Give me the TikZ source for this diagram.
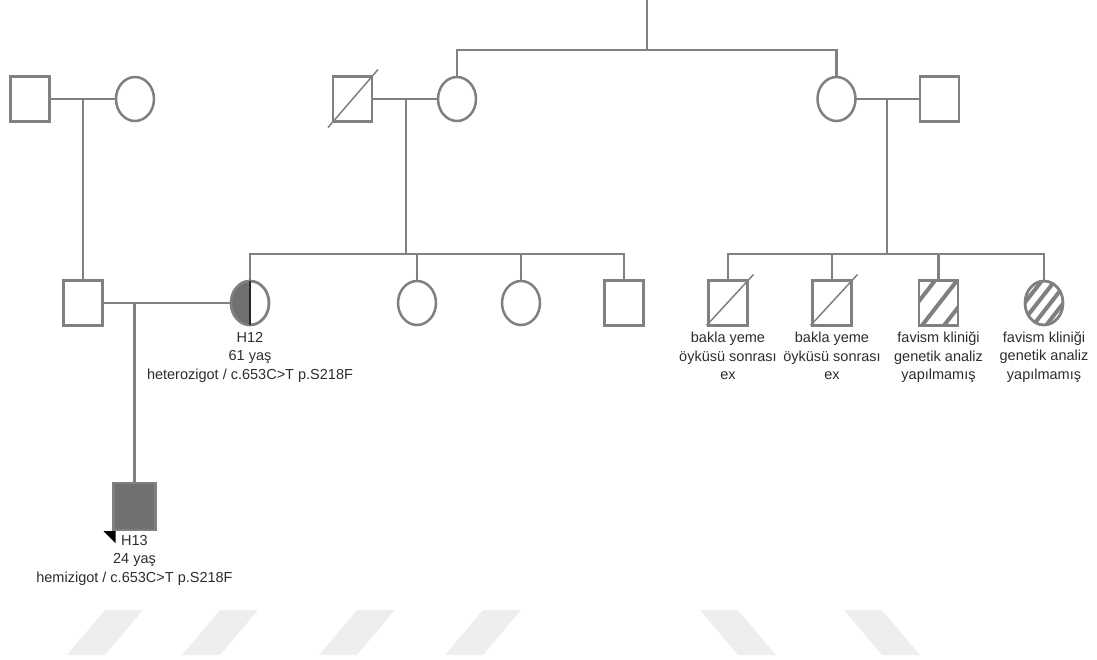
\documentclass[tikz,border=0pt]{standalone}
\usepackage{fontspec}
\setmainfont{Liberation Sans}
\definecolor{pedgray}{RGB}{128,128,128}
\definecolor{pedfill}{RGB}{112,112,112}
\definecolor{pedtext}{RGB}{45,45,45}
\definecolor{wmgray}{RGB}{238,238,238}
\usetikzlibrary{positioning,shapes.geometric,calc}

\begin{document}
\begin{tikzpicture}[x=1pt, y=-1pt, every node/.style={font=\fontsize{14.5}{18.5}\selectfont, text=pedtext},
  male/.style={draw=pedgray, line width=2.5pt, fill=white, minimum width=39pt, minimum height=45pt, inner sep=0pt, outer sep=0pt},
  female/.style={ellipse, draw=pedgray, line width=2.5pt, fill=white, minimum width=38pt, minimum height=44pt, inner sep=0pt, outer sep=0pt},
  rel/.style={draw=pedgray, line width=2.5pt},
  dead/.style={draw=pedgray, line width=1.5pt},
  hatch/.style={draw=pedgray, line width=4pt},
  info/.style={align=center, inner sep=0pt}]
\useasboundingbox (0,0) rectangle (1097,659);
% Watermark
\foreach \cx in {105,220,357,483} \fill[wmgray] (\cx,610) -- (\cx+38,610) -- (\cx,655) -- (\cx-38,655) -- cycle;
\foreach \cx in {738,882} \fill[wmgray] (\cx-38,610) -- (\cx,610) -- (\cx+38,655) -- (\cx,655) -- cycle;
% Generation I
\node[male] (m1) at (30,99) {};
\node[female] (f1) at (135,99) {};
\node[male] (gf) at (352.5,99) {};
\node[female] (gm) at (457,99) {};
\node[female] (f3) at (836.5,99) {};
\node[male] (m3) at (939.5,99) {};
\draw[dead] ($(gf.south west)+(-5pt,-6pt)$) -- ($(gf.north east)+(6pt,7pt)$);
% Top line
\coordinate (topIn) at (647,0);
\coordinate (topJ) at (647,50);
\draw[rel] (topIn) -- (topJ);
\draw[rel] (gm.north) |- (topJ) -| (f3.north);
% Couples
\draw[rel] (m1.east) -- (f1.west);
\draw[rel] (gf.east) -- (gm.west);
\draw[rel] (f3.east) -- (m3.west);
% Generation II
\node[male] (m2) at (83,303) {};
\node[female] (h12) at (250,303) {};
\node[female] (c2) at (417,303) {};
\node[female] (c3) at (521,303) {};
\node[male] (c4) at (624,303) {};
\node[male] (s1) at (728,303) {};
\node[male] (s2) at (832,303) {};
\node[male] (s3) at (938.5,303) {};
\node[female] (s4) at (1044,303) {};
% H12 carrier
\begin{scope}
\clip ($(h12.north)+(-25pt,5pt)$) rectangle ($(h12.south)+(0pt,-5pt)$);
\fill[pedfill] (h12.center) ellipse [x radius=19pt, y radius=22pt];
\end{scope}
\draw[pedgray, line width=2.5pt] (h12.center) ellipse [x radius=19pt, y radius=22pt];
\draw[black!85, line width=1.5pt] (h12.north) -- (h12.south);
% Deceased brothers
\draw[dead] ($(s1.south west)+(-2pt,0pt)$) -- ($(s1.north east)+(6pt,6pt)$);
\draw[dead] ($(s2.south west)+(-2pt,0pt)$) -- ($(s2.north east)+(6pt,6pt)$);
% Hatched siblings
\begin{scope}
\clip (s3.south west) rectangle (s3.north east);
\foreach \d in {-21,1,23} \draw[hatch] ($(s3.center)+(\d pt,0pt)+(-25pt,-32pt)$) -- ++(50pt,64pt);
\end{scope}
\draw[pedgray, line width=2.5pt] (s3.south west) rectangle (s3.north east);
\begin{scope}
\clip (s4.center) ellipse [x radius=19pt, y radius=22pt];
\foreach \d in {-19.5,-6.5,6.5,19.5} \draw[hatch] ($(s4.center)+(\d pt,0pt)+(-25pt,-32pt)$) -- ++(50pt,64pt);
\end{scope}
\draw[pedgray, line width=2.5pt] (s4.center) ellipse [x radius=19pt, y radius=22pt];
% Sibships
\draw[rel] (m2.north) -- (m2.north |- m1.east);
\coordinate (sibM) at (406,254);
\draw[rel] (sibM) -- (sibM |- gf.east);
\draw[rel] (h12.north) |- (sibM) -| (c4.north);
\draw[rel] (c2.north) -- (c2.north |- sibM);
\draw[rel] (c3.north) -- (c3.north |- sibM);
\coordinate (sibR) at (887,254);
\draw[rel] (sibR) -- (sibR |- m3.west);
\draw[rel] (s1.north) |- (sibR) -| (s4.north);
\draw[rel] (s2.north) -- (s2.north |- sibR);
\draw[rel] (s3.north) -- (s3.north |- sibR);
% Generation III
\draw[rel] (m2.east) -- (h12.west);
\node[male, fill=pedfill, minimum width=42pt, minimum height=47pt] (h13) at (134.5,506.5) {};
\draw[rel] (h13.north) -- (h13.north |- m2.east);
\fill[black] ($(h13.south west)+(-10pt,-1pt)$) -- ++(12pt,0pt) -- ++(0pt,-12pt) -- cycle;
% Labels
\node[info, below=7pt of h12] (h12txt) {H12\\61 yaş\\heterozigot / c.653C>T p.S218F};
\node[info, below=5pt of h13] (h13txt) {H13\\24 yaş\\hemizigot / c.653C>T p.S218F};
\node[info, below=6.5pt of s1] (s1txt) {bakla yeme\\öyküsü sonrası\\ex};
\node[info, below=6.5pt of s2] (s2txt) {bakla yeme\\öyküsü sonrası\\ex};
\node[info, below=6.5pt of s3] (s3txt) {favism kliniği\\genetik analiz\\yapılmamış};
\node[info, below=6.5pt of s4] (s4txt) {favism kliniği\\genetik analiz\\yapılmamış};
\end{tikzpicture}
\end{document}
